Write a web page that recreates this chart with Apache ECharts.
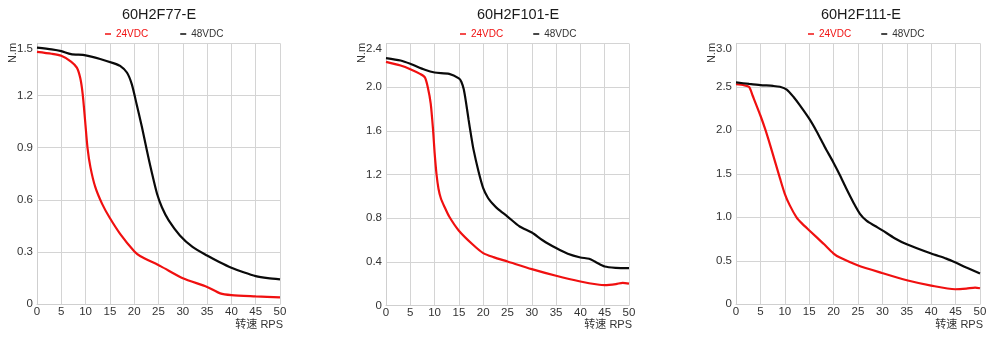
<!DOCTYPE html>
<html>
<head>
<meta charset="utf-8">
<script src="https://cdn.jsdelivr.net/npm/echarts@6/dist/echarts.min.js"></script>
<style>html,body{margin:0;padding:0;background:#fff;}#c{width:1000px;height:341px;}</style>
</head>
<body>
<div id="c"></div>
<script>
// ---- data ----
const titles = ['60H2F77-E', '60H2F101-E', '60H2F111-E'];
const seriesNames = ['24VDC', '48VDC'];
const xTickMax = 50, xTickStep = 5;
const yTickMax = [1.5, 2.4, 3.0];
const yTickStep = [0.3, 0.4, 0.5];
const xAxisName = '转速 RPS';
const yAxisName = 'N.m';

// 60H2F77-E
const speed77_24 = [0, 3, 5, 7, 8.2, 8.9, 9.4, 9.9, 10.4, 11, 12, 13.4, 14.9, 17.1, 20, 21.2, 25.5, 30, 35, 37.7, 40, 45, 50];
const torque77_24 = [1.451, 1.44, 1.428, 1.395, 1.36, 1.30, 1.208, 1.055, 0.898, 0.787, 0.673, 0.577, 0.5, 0.405, 0.305, 0.278, 0.218, 0.15, 0.1, 0.063, 0.053, 0.046, 0.04];
const speed77_48 = [0, 3, 5, 7, 10, 13, 15.7, 17.1, 18.5, 19.5, 20.5, 21.6, 22.6, 23.6, 24.7, 25.7, 27.1, 29.4, 32, 35, 37.5, 40, 42.5, 45, 47.5, 50];
const torque77_48 = [1.475, 1.465, 1.455, 1.438, 1.431, 1.41, 1.386, 1.37, 1.332, 1.265, 1.15, 1.017, 0.885, 0.76, 0.635, 0.558, 0.482, 0.396, 0.33, 0.28, 0.243, 0.21, 0.184, 0.162, 0.15, 0.143];

// 60H2F101-E
const speed101_24 = [0, 3, 5, 7, 8, 8.6, 9.2, 9.7, 10, 10.4, 10.8, 11.3, 12, 13, 15, 17.9, 20, 22.1, 25, 30, 35, 40, 43.9, 45, 47.3, 48.7, 50];
const torque101_24 = [2.232, 2.198, 2.165, 2.122, 2.09, 2.0, 1.85, 1.6, 1.4, 1.2, 1.07, 0.98, 0.907, 0.815, 0.685, 0.556, 0.48, 0.443, 0.403, 0.333, 0.272, 0.22, 0.19, 0.187, 0.196, 0.208, 0.2];
const speed101_48 = [0, 3, 5, 8, 10, 13, 15, 15.5, 16, 16.5, 17, 17.5, 18, 19, 20, 21, 22, 23, 25, 27.5, 30, 32.3, 35, 37.4, 40, 41.8, 43.2, 45, 47.3, 50];
const torque101_48 = [2.266, 2.244, 2.214, 2.159, 2.134, 2.122, 2.08, 2.05, 1.98, 1.85, 1.70, 1.56, 1.43, 1.235, 1.075, 0.985, 0.93, 0.885, 0.815, 0.724, 0.669, 0.595, 0.526, 0.474, 0.44, 0.428, 0.397, 0.357, 0.345, 0.342];

// 60H2F111-E
const speed111_24 = [0, 1.7, 2.7, 3.4, 5, 6, 7, 8, 9, 10, 11, 12.4, 13.5, 15.2, 17.9, 20, 21.3, 24.9, 29.9, 35, 40, 44.9, 47.2, 49, 50];
const torque111_24 = [2.529, 2.517, 2.498, 2.4, 2.17, 2.01, 1.83, 1.64, 1.45, 1.27, 1.14, 1.0, 0.93, 0.84, 0.698, 0.583, 0.537, 0.449, 0.36, 0.276, 0.215, 0.173, 0.18, 0.192, 0.184];
const speed111_48 = [0, 2.7, 5, 7.6, 9, 10.4, 11.8, 13.1, 15, 16.5, 18.2, 19.9, 21.3, 22.6, 24, 25.4, 26.8, 28.5, 30, 32.5, 35, 40, 43.1, 45, 47.2, 50];
const torque111_48 = [2.55, 2.533, 2.52, 2.51, 2.5, 2.468, 2.383, 2.287, 2.134, 1.99, 1.808, 1.636, 1.483, 1.33, 1.176, 1.04, 0.958, 0.9, 0.85, 0.76, 0.69, 0.583, 0.525, 0.48, 0.422, 0.353];

const pairs = (xs, ys) => xs.map((x, i) => [x, ys[i]]);
const curves = [
  [pairs(speed77_24, torque77_24), pairs(speed77_48, torque77_48)],
  [pairs(speed101_24, torque101_24), pairs(speed101_48, torque101_48)],
  [pairs(speed111_24, torque111_24), pairs(speed111_48, torque111_48)]
];

// ---- layout / style ----
const FONT = 'Liberation Sans, Arial, Noto Sans CJK SC, sans-serif';
const colors = ['#f01010', '#0a0a0a'];
const grids = [
  {left: 37, top: 43.3, width: 243, height: 261},
  {left: 386, top: 43.5, width: 243, height: 262},
  {left: 736, top: 43.3, width: 244, height: 261}
];
const titleX = [159, 518, 861];
const legendX = [105, 460, 808];
const legendGap = [32, 30, 30];

const option = {
  animation: false,
  backgroundColor: '#fff',
  textStyle: {fontFamily: FONT},
  title: titles.map((t, i) => ({
    text: t, left: titleX[i], top: 8, textAlign: 'center', padding: 0,
    textStyle: {fontSize: 14.5, fontWeight: 'normal', color: '#1a1a1a', fontFamily: FONT}
  })),
  legend: titles.map((t, i) => ({
    left: legendX[i], top: 29, padding: 0, itemGap: legendGap[i],
    itemWidth: 6, itemHeight: 1.5, icon: 'rect',
    textStyle: {fontSize: 10, fontFamily: FONT},
    data: [
      {name: seriesNames[0], textStyle: {color: colors[0]}},
      {name: seriesNames[1], textStyle: {color: '#333'}}
    ]
  })),
  grid: grids,
  xAxis: grids.map((g, i) => ({
    type: 'value', gridIndex: i, min: 0, max: xTickMax, interval: xTickStep,
    axisLine: {show: true, lineStyle: {color: '#cfcfcf', width: 1}},
    axisTick: {show: false},
    splitLine: {show: true, lineStyle: {color: '#d4d4d4', width: 1}},
    axisLabel: {fontSize: 11.5, color: '#333', margin: 2, fontFamily: FONT}
  })),
  yAxis: grids.map((g, i) => ({
    type: 'value', gridIndex: i, min: 0, max: yTickMax[i], interval: yTickStep[i],
    axisLine: {show: true, lineStyle: {color: '#cfcfcf', width: 1}},
    axisTick: {show: false},
    splitLine: {show: true, lineStyle: {color: '#d4d4d4', width: 1}},
    axisLabel: {
      fontSize: 11.5, color: '#333', margin: 4, fontFamily: FONT,
      verticalAlignMaxLabel: 'top',
      formatter: v => (Math.abs(v) < 1e-9 ? '0' : v.toFixed(1))
    }
  })),
  series: [],
  graphic: []
};

curves.forEach((pair, i) => {
  pair.forEach((data, k) => {
    option.series.push({
      type: 'line', name: seriesNames[k], xAxisIndex: i, yAxisIndex: i,
      data: data, showSymbol: false, symbol: 'none', smooth: 0.25,
      lineStyle: {color: colors[k], width: 2.2},
      itemStyle: {color: colors[k]}
    });
  });
  const g = grids[i];
  option.graphic.push({
    type: 'text', x: g.left + g.width + 3, y: 325,
    style: {text: xAxisName, fontSize: 11, fill: '#333', align: 'right', verticalAlign: 'middle', fontFamily: FONT}
  });
  option.graphic.push({
    type: 'text', x: g.left - 24.5, y: 53, rotation: Math.PI / 2,
    style: {text: yAxisName, fontSize: 11, fill: '#333', align: 'center', verticalAlign: 'middle', fontFamily: FONT}
  });
});

const chart = echarts.init(document.getElementById('c'), null, {renderer: 'canvas'});
chart.setOption(option);
</script>
</body>
</html>
